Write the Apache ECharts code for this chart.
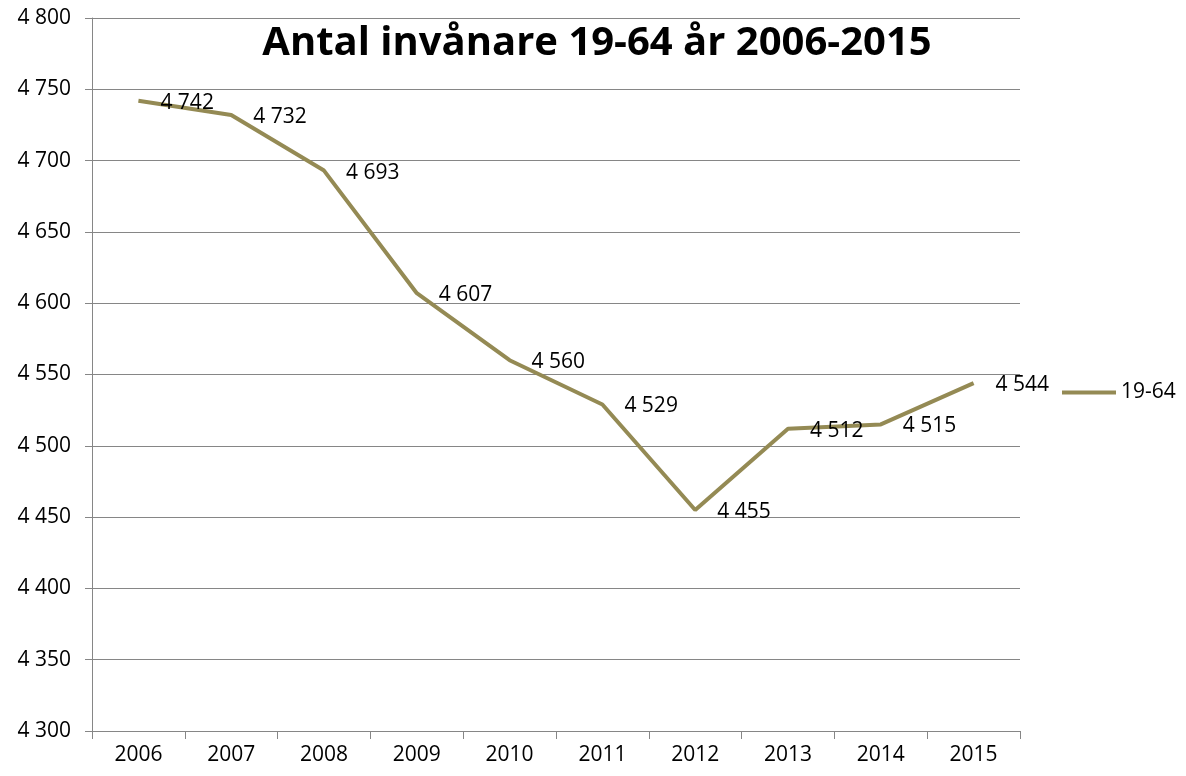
<!DOCTYPE html>
<html>
<head>
<meta charset="utf-8">
<script src="https://cdn.jsdelivr.net/npm/echarts@6/dist/echarts.min.js"></script>
<style>
  html, body { margin: 0; padding: 0; background: #fff; }
  #main { width: 1186px; height: 776px; }
</style>
</head>
<body>
<div id="main"></div>
<script>
var years = ['2006', '2007', '2008', '2009', '2010', '2011', '2012', '2013', '2014', '2015'];
var invanare = [4742, 4732, 4693, 4607, 4560, 4529, 4455, 4512, 4515, 4544];
var seriesName = '19-64';

function fmt(v) {
  return String(v).replace(/\B(?=(\d{3})+(?!\d))/g, ' ');
}

var myChart = echarts.init(document.getElementById('main'));
myChart.setOption({
  animation: false,
  textStyle: { fontFamily: 'Open Sans' },
  title: {
    text: 'Antal invånare 19-64 år 2006-2015',
    left: 592,
    textAlign: 'center',
    top: 19,
    textStyle: { fontSize: 40, fontWeight: 'bold', color: '#000', fontFamily: 'Open Sans' }
  },
  legend: {
    data: [seriesName],
    left: 1057,
    top: 377,
    itemWidth: 54,
    itemHeight: 4,
    icon: 'rect',
    textStyle: { fontSize: 21, color: '#000' }
  },
  grid: { left: 92, right: 166, top: 18, bottom: 45 },
  xAxis: {
    type: 'category',
    data: years,
    boundaryGap: true,
    axisLine: { lineStyle: { color: '#868686', width: 1 } },
    axisTick: { show: true, length: 8, lineStyle: { color: '#868686' } },
    axisLabel: { fontSize: 21, color: '#000', margin: 14 }
  },
  yAxis: {
    type: 'value',
    min: 4300,
    max: 4800,
    interval: 50,
    axisLine: { show: true, lineStyle: { color: '#868686', width: 1 } },
    axisTick: { show: true, length: 7, lineStyle: { color: '#868686' } },
    axisLabel: { fontSize: 21, color: '#000', margin: 21, formatter: fmt },
    splitLine: { lineStyle: { color: '#868686', width: 1 } }
  },
  series: [{
    name: seriesName,
    type: 'line',
    data: invanare,
    symbol: 'circle',
    symbolSize: 0.01,
    showSymbol: true,
    lineStyle: { color: '#948A54', width: 4 },
    itemStyle: { color: '#948A54' },
    label: {
      show: true,
      position: 'right',
      distance: 22,
      offset: [0, 2],
      fontSize: 21,
      color: '#000',
      formatter: function (p) { return fmt(p.value); }
    }
  }]
});
</script>
</body>
</html>
